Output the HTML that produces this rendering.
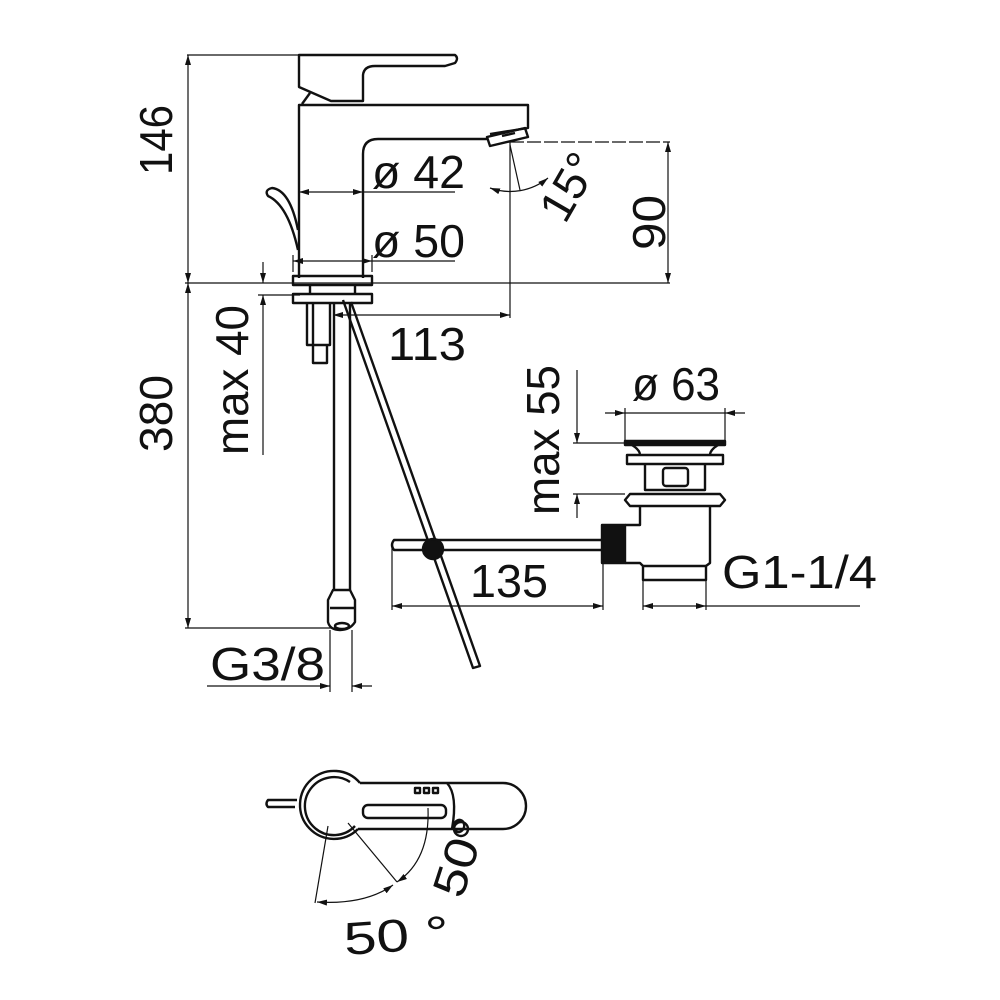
<!DOCTYPE html>
<html><head><meta charset="utf-8"><style>
html,body{margin:0;padding:0;background:#fff;}
svg{display:block;}
text{font-family:"Liberation Sans",sans-serif;fill:#111;font-size:46px;}
</style></head><body>
<svg width="1000" height="1000" viewBox="0 0 1000 1000" xmlns="http://www.w3.org/2000/svg">
<defs>
<marker id="a" viewBox="0 0 10 6" refX="10" refY="3" markerWidth="10" markerHeight="6" orient="auto-start-reverse" markerUnits="userSpaceOnUse"><path d="M0,0L10,3L0,6z" fill="#111"/></marker>
</defs>
<g stroke="#111" fill="none" stroke-width="1.2">
<line x1="187" y1="55" x2="300" y2="55"/>
<line x1="188" y1="55" x2="188" y2="283" marker-start="url(#a)" marker-end="url(#a)"/>
<line x1="188" y1="283" x2="188" y2="628" marker-start="url(#a)" marker-end="url(#a)"/>
<line x1="185" y1="283" x2="670" y2="283"/>
<line x1="185" y1="628" x2="335" y2="628"/>
<line x1="299" y1="192" x2="363" y2="192" marker-start="url(#a)" marker-end="url(#a)"/>
<line x1="363" y1="192" x2="455" y2="192"/>
<line x1="293" y1="261" x2="372" y2="261" marker-start="url(#a)" marker-end="url(#a)"/>
<line x1="372" y1="261" x2="455" y2="261"/>
<line x1="293" y1="255" x2="293" y2="272"/><line x1="372" y1="255" x2="372" y2="272"/>
<line x1="510" y1="142" x2="510" y2="318"/>
<line x1="510" y1="142" x2="670" y2="142" stroke-dasharray="14 3"/>
<line x1="668" y1="142" x2="668" y2="283" marker-start="url(#a)" marker-end="url(#a)"/>
<line x1="333" y1="315" x2="510" y2="315" marker-start="url(#a)" marker-end="url(#a)"/>
<line x1="263" y1="262" x2="263" y2="283" marker-end="url(#a)"/>
<line x1="263" y1="295" x2="263" y2="455" marker-start="url(#a)"/>
<line x1="258" y1="295" x2="300" y2="295"/>
<path d="M490,188 A60,60 0 0 0 548,178" marker-start="url(#a)" marker-end="url(#a)"/>
<line x1="510" y1="145" x2="520" y2="190"/>
<line x1="207" y1="686" x2="330" y2="686" marker-end="url(#a)"/>
<line x1="352" y1="686" x2="372" y2="686" marker-start="url(#a)"/>
<line x1="330" y1="630" x2="330" y2="692"/><line x1="352" y1="630" x2="352" y2="692"/>
<line x1="392" y1="545" x2="392" y2="610"/><line x1="603" y1="560" x2="603" y2="610"/>
<line x1="392" y1="606" x2="603" y2="606" marker-start="url(#a)" marker-end="url(#a)"/>
<line x1="643" y1="580" x2="643" y2="610"/><line x1="706" y1="580" x2="706" y2="610"/>
<line x1="643" y1="606" x2="706" y2="606" marker-start="url(#a)" marker-end="url(#a)"/>
<line x1="706" y1="606" x2="860" y2="606"/>
<line x1="577" y1="370" x2="577" y2="443" marker-end="url(#a)"/>
<line x1="577" y1="494" x2="577" y2="518" marker-start="url(#a)"/>
<line x1="573" y1="443" x2="625" y2="443"/><line x1="573" y1="494" x2="625" y2="494"/>
<line x1="605" y1="413" x2="625" y2="413" marker-end="url(#a)"/>
<line x1="725" y1="413" x2="745" y2="413" marker-start="url(#a)"/>
<line x1="625" y1="413" x2="725" y2="413"/>
<line x1="625" y1="408" x2="625" y2="440"/><line x1="725" y1="408" x2="725" y2="440"/>
</g>
<g stroke="#111" fill="none" stroke-width="2.4" stroke-linejoin="round">
<path d="M299,55 L455,55 Q459,58 455,63 L445,66 L375,66 Q364,66 363,75 L363,101 L331,101 L299,87 Z"/>
<path d="M310,93 L302,104"/>
<path d="M299,278 L299,105 L528,105 L528,128 L490,134 M487,139 L378,139 Q363,139 363,154 L363,278"/>
<path d="M487,137 L525,128 L528,137 L490,146 Z"/>
<path d="M502,136 L515,133" />
<path d="M298,250 Q288,205 268,196 Q264,190 272,188 Q290,190 298,230"/>
<rect x="293" y="276" width="79" height="9"/>
<rect x="293" y="294" width="79" height="9"/>
<line x1="310" y1="285" x2="310" y2="294"/><line x1="355" y1="285" x2="355" y2="294"/>
<path d="M307,303 L307,345 L330,345 L330,303 M313,345 L313,363 L327,363 L327,345 M313,303 L313,345"/>
<line x1="334" y1="303" x2="334" y2="590"/><line x1="350" y1="303" x2="350" y2="590"/>
<path d="M333,590 L350,590 L355,600 L355,622 Q350,630 340,630 Q330,630 328,622 L328,600 Z"/>
<line x1="330" y1="608" x2="355" y2="608"/>
<ellipse cx="342" cy="626" rx="7" ry="3"/>
<path d="M343,300 L473,668 L480,666 L351,302"/>
<path d="M603,540 L394,540 Q390,545 394,550 L603,550"/>
<circle cx="433" cy="549" r="10" fill="#111"/>
<rect x="602" y="525" width="23" height="38" fill="#111"/>
<rect x="625" y="441" width="100" height="4" fill="#111"/>
<path d="M632,445 Q640,450 640,455 M718,445 Q710,450 710,455"/>
<rect x="627" y="455" width="96" height="9"/>
<path d="M645,464 L645,490 L705,490 L705,464"/>
<rect x="663" y="468" width="25" height="18" rx="3"/>
<path d="M630,494 L720,494 L725,500 L720,506 L630,506 L625,500 Z"/>
<path d="M640,506 L640,525 L625,525 M625,563 L640,563 L643,566 L643,580 L706,580 L706,566 L710,563 L710,506"/>
<line x1="643" y1="566" x2="706" y2="566"/>
<!-- top view -->
<path d="M360,783 A34,34 0 1 0 358,829"/>
<path d="M350,782 A29,29 0 1 0 355,826"/>
<path d="M360,783 L503,783 A23,23 0 0 1 503,829 L358,829"/>
<path d="M447,783 Q458,795 452,829"/>
<rect x="363" y="805" width="83" height="13" rx="5"/>
<circle cx="461" cy="829" r="7"/>
<path d="M297,800 L268,800 Q265,804 268,807 L295,807"/>
<rect x="415" y="788" width="5" height="5"/><rect x="424" y="788" width="5" height="5"/><rect x="433" y="788" width="5" height="5"/>
</g>
<g stroke="#111" fill="none" stroke-width="1.2">
<line x1="328" y1="826" x2="315" y2="903"/>
<line x1="348" y1="823" x2="397" y2="882"/>
<path d="M317,902 Q365,905 393,885" marker-start="url(#a)" marker-end="url(#a)"/>
<path d="M397,882 Q430,860 428,808" marker-start="url(#a)"/>
</g>
<text x="372" y="188" textLength="93" lengthAdjust="spacingAndGlyphs">ø 42</text>
<text x="372" y="257" textLength="93" lengthAdjust="spacingAndGlyphs">ø 50</text>
<text x="388" y="360" textLength="78" lengthAdjust="spacingAndGlyphs">113</text>
<text x="470" y="597" textLength="78" lengthAdjust="spacingAndGlyphs">135</text>
<text x="722" y="588" textLength="155" lengthAdjust="spacingAndGlyphs">G1-1/4</text>
<text x="210" y="680" textLength="115" lengthAdjust="spacingAndGlyphs">G3/8</text>
<text x="632" y="400" textLength="88" lengthAdjust="spacingAndGlyphs">ø 63</text>
<text transform="translate(172,175) rotate(-90)" textLength="70" lengthAdjust="spacingAndGlyphs">146</text>
<text transform="translate(172,452) rotate(-90)" textLength="77" lengthAdjust="spacingAndGlyphs">380</text>
<text transform="translate(248,455) rotate(-90)" textLength="150" lengthAdjust="spacingAndGlyphs">max 40</text>
<text transform="translate(559,515) rotate(-90)" textLength="150" lengthAdjust="spacingAndGlyphs">max 55</text>
<text transform="translate(665,250) rotate(-90)" textLength="55" lengthAdjust="spacingAndGlyphs">90</text>
<text transform="translate(565,225) rotate(-60)" textLength="70" lengthAdjust="spacingAndGlyphs">15°</text>
<text transform="translate(345,955) rotate(-4)" textLength="105" lengthAdjust="spacingAndGlyphs">50 °</text>
<text transform="translate(462,900) rotate(-72)" textLength="80" lengthAdjust="spacingAndGlyphs">50°</text>
</svg>
</body></html>
